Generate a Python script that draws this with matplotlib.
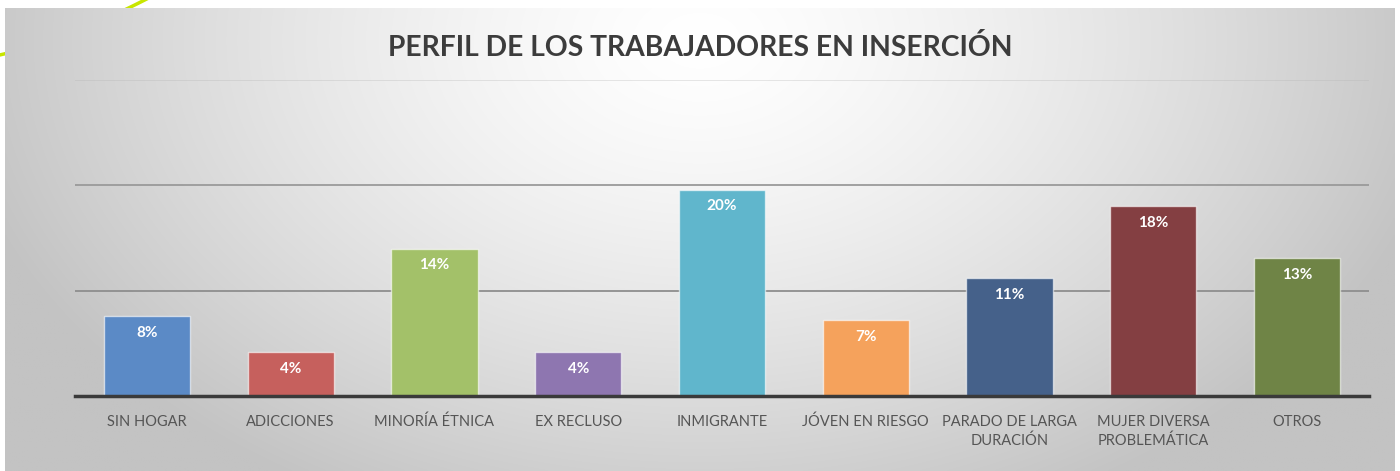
import numpy as np
import matplotlib
matplotlib.use('Agg')
import matplotlib.pyplot as plt

categories = ['SIN HOGAR', 'ADICCIONES', 'MINORÍA ÉTNICA', 'EX RECLUSO', 'INMIGRANTE',
              'JÓVEN EN RIESGO', 'PARADO DE LARGA\nDURACIÓN', 'MUJER DIVERSA\nPROBLEMÁTICA', 'OTROS']
values = [7.6, 4.2, 14.0, 4.2, 19.6, 7.2, 11.2, 18.0, 13.1]
value_labels = ['8%', '4%', '14%', '4%', '20%', '7%', '11%', '18%', '13%']
colors = ['#5b8ac6', '#c6605d', '#a3c169', '#8e76b0', '#60b6cc',
          '#f5a25c', '#45618a', '#843f42', '#6f8446']

plt.rcParams['font.family'] = ['Lato', 'DejaVu Sans']

W, H = 1400, 471
fig = plt.figure(figsize=(W / 100, H / 100), dpi=100)
fig.patch.set_facecolor('white')

# slide decoration line (top-left), mostly hidden behind the chart box
deco = fig.add_axes([0, 0, 1, 1], zorder=0)
deco.set_xlim(0, W)
deco.set_ylim(H, 0)
deco.axis('off')
t = np.linspace(0, 1, 50)
deco.plot((1 - t) ** 2 * -5 + 2 * (1 - t) * t * 70 + t ** 2 * 160,
          (1 - t) ** 2 * 56 + 2 * (1 - t) * t * 40 + t ** 2 * -8,
          color='#c8e600', lw=2.5)

# gradient background of the chart box
bg = fig.add_axes([5 / W, 0, 1390 / W, 1 - 8 / H], zorder=1)
xx, yy = np.meshgrid(np.linspace(5, 1395, 700), np.linspace(8, 471, 240))
r = np.sqrt(((xx - 700) / 760) ** 2 + ((yy - 40) / 520) ** 2)
shade = 255 - 60 * np.clip(r, 0, 1) ** 1.4
img = np.dstack([shade, shade, shade]) / 255
bg.imshow(img, aspect='auto', extent=[0, 1, 0, 1], interpolation='bilinear')
bg.axis('off')

ax = fig.add_axes([75 / W, 75 / H, 1294 / W, 316 / H], zorder=2)
ax.patch.set_alpha(0)
x = np.arange(len(categories))
ax.bar(x, values, width=0.6, color=colors, edgecolor=(1, 1, 1, 0.6), linewidth=1, zorder=3)
for xi, v, lab in zip(x, values, value_labels):
    ax.text(xi, v - 1.6, lab, ha='center', va='center', color='white',
            fontsize=11, fontweight='bold', zorder=4)

ax.set_xlim(-0.5, len(categories) - 0.5)
ax.set_ylim(0, 30)
ax.axhline(10, color='#8e8e8e', lw=1.3, zorder=1)
ax.axhline(20, color='#9a9a9a', lw=1.3, zorder=1)
ax.axhline(30, color='#b4b4b4', lw=1.3, alpha=0.35, zorder=1)
ax.set_yticks([])
ax.tick_params(bottom=False)
ax.set_xticks(x)
ax.set_xticklabels(categories, fontsize=10.5, color='#555555', linespacing=1.45)
ax.tick_params(axis='x', pad=10)
for s in ['top', 'right', 'left']:
    ax.spines[s].set_visible(False)
ax.spines['bottom'].set_color('#3a3a3a')
ax.spines['bottom'].set_linewidth(2.5)
ax.spines['bottom'].set_zorder(5)

fig.text(0.5, 1 - 47 / H, 'PERFIL DE LOS TRABAJADORES EN INSERCIÓN', ha='center', va='center',
         fontsize=20.3, fontweight='bold', color='#3c3c3c', zorder=3)

fig.savefig('out.png', dpi=100)
